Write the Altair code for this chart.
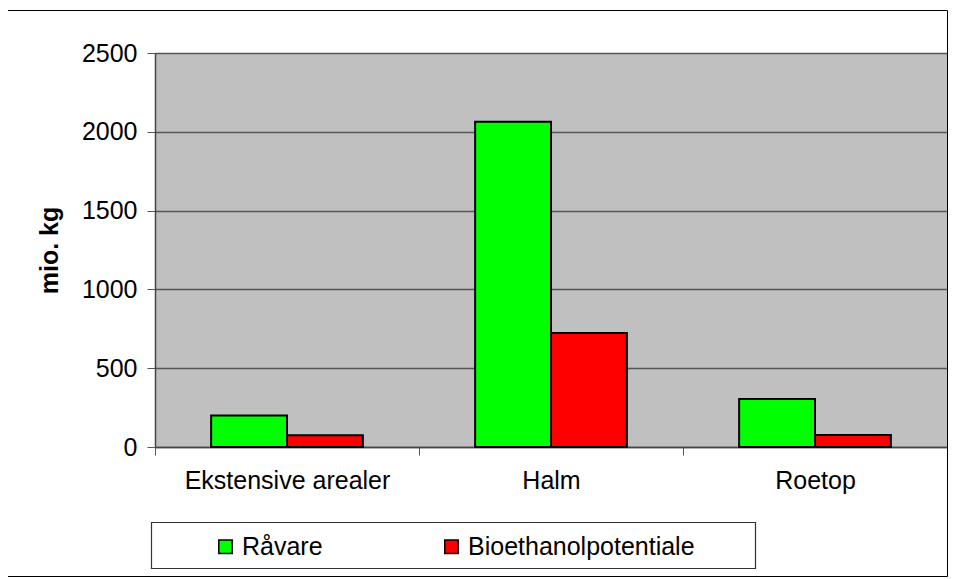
import altair as alt
import pandas as pd

categories = ["Ekstensive arealer", "Halm", "Roetop"]
series = ["Råvare", "Bioethanolpotentiale"]
raavare = [200, 2063, 304]
bioethanol = [75, 724, 76]
y_ticks = [0, 500, 1000, 1500, 2000, 2500]
colors = ["#00FF00", "#FF0000"]

rows = []
for c, a, b in zip(categories, raavare, bioethanol):
    rows.append({"Kategori": c, "Serie": series[0], "Værdi": a})
    rows.append({"Kategori": c, "Serie": series[1], "Værdi": b})
df = pd.DataFrame(rows)

FONT = "Liberation Sans, Arial, sans-serif"
FS = 25
W, H = 792, 394

bars = alt.Chart(df).mark_bar(stroke="black", strokeWidth=2).encode(
    x=alt.X("Kategori:N", sort=categories,
            scale=alt.Scale(paddingInner=0, paddingOuter=0),
            axis=alt.Axis(title=None, labelAngle=0, tickBand="extent", labelLimit=0,
                          labelFontSize=FS, labelFont=FONT, labelColor="black",
                          labelPadding=13, tickSize=8, tickColor="#555",
                          domainColor="#444", domainWidth=1.5, grid=False)),
    xOffset=alt.XOffset("Serie:N", sort=series,
                        scale=alt.Scale(paddingInner=0, paddingOuter=0.74)),
    y=alt.Y("Værdi:Q", scale=alt.Scale(domain=[0, 2500], nice=False),
            axis=alt.Axis(title="mio. kg", values=y_ticks, format="d",
                          labelFontSize=FS, labelFont=FONT, labelColor="black",
                          labelPadding=10, tickSize=8, tickColor="#555",
                          domainColor="#444", domainWidth=1.5,
                          grid=True, gridColor="#555555", gridWidth=1.4,
                          titleFont=FONT, titleFontSize=FS, titleFontWeight="bold",
                          titleColor="black", titlePadding=19)),
    color=alt.Color("Serie:N", sort=series,
                    scale=alt.Scale(domain=series, range=colors),
                    legend=alt.Legend(title=None, orient="none", direction="horizontal",
                                      legendX=58, legendY=481, padding=0,
                                      columnPadding=116, labelOffset=4, labelLimit=0,
                                      symbolType="square", symbolSize=180,
                                      symbolStrokeColor="black", symbolStrokeWidth=1.5,
                                      labelFontSize=FS, labelFont=FONT,
                                      labelColor="black")),
)

one = pd.DataFrame({"k": [0]})
frame = alt.Chart(one).mark_rect(fill="transparent", stroke="black", strokeWidth=1, clip=False).encode(
    x=alt.value(-147.5), x2=alt.value(W + 0.5), y=alt.value(-42.5), y2=alt.value(523.5)
)
legend_box = alt.Chart(one).mark_rect(fill="white", stroke="#333", strokeWidth=1.2, clip=False).encode(
    x=alt.value(-3.5), x2=alt.value(600.5), y=alt.value(469.5), y2=alt.value(515.5)
)

chart = alt.layer(frame, legend_box, bars).properties(
    width=W, height=H,
    background="white",
    autosize=alt.AutoSizeParams(type="none"),
    padding={"left": 147, "top": 45, "right": 1, "bottom": 131},
).configure_view(fill="#C0C0C0", stroke=None)

chart.save("out.html", embed_options={"renderer": "svg", "actions": False})
